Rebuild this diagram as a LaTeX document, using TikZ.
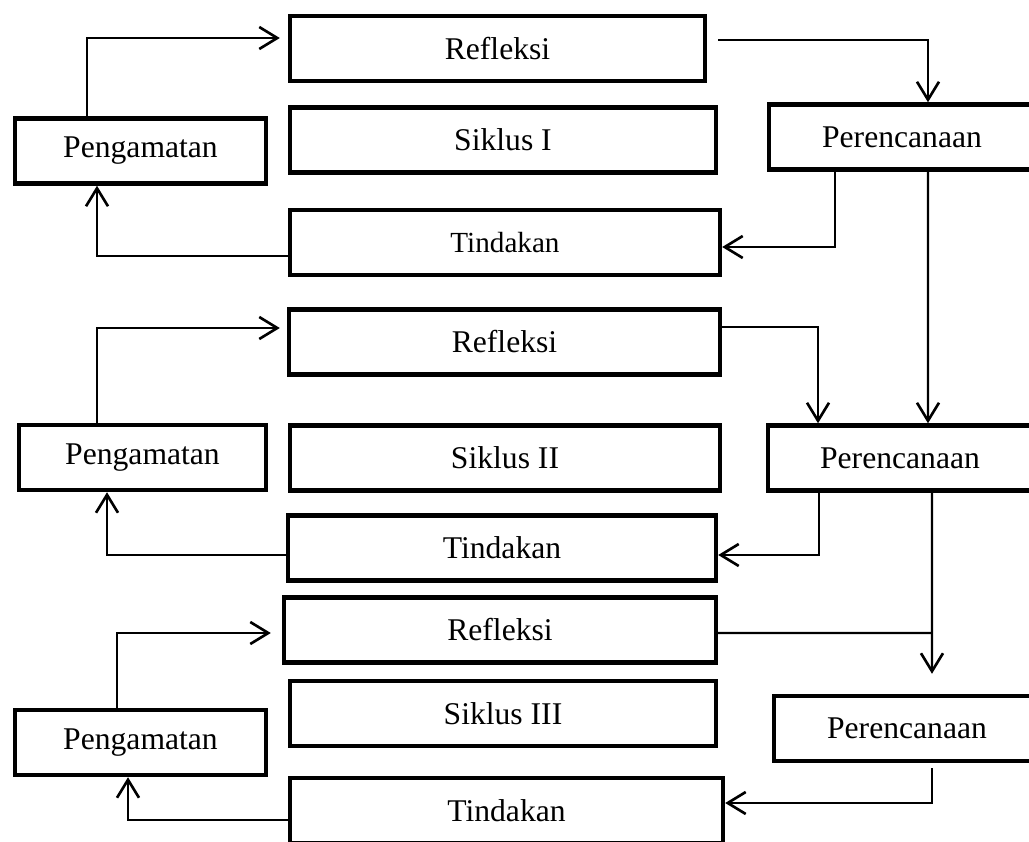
\documentclass[tikz,border=0pt]{standalone}
\usepackage{fontspec}
\setmainfont{Liberation Serif}
\usetikzlibrary{arrows.meta, positioning}

\begin{document}
\begin{tikzpicture}[
    x=0.02cm, y=-0.02cm,
    every node/.style={font=\fontsize{18}{22}\selectfont},
    kotak/.style={rectangle, draw, line width=0.09cm, minimum height=1.3cm,
                  inner sep=0pt, align=center},
    arr/.style={-{Straight Barb[length=0.36cm, width=0.44cm, line width=1.5pt]}, line width=1.2pt},
    ln/.style={line width=1.2pt}
]
    \useasboundingbox (0,0) rectangle (1029,842);
    \clip (0,0) rectangle (1029,842);

    % Siklus I
    \node[kotak, minimum width=8.3cm]  (ref1) at (497.5,48.5) {Refleksi};
    \node[kotak, minimum width=8.52cm] (sik1) at (503,140)    {Siklus I};
    \node[kotak, minimum width=8.6cm, font=\fontsize{16.6}{20}\selectfont]
                                       (tin1) at (505,242.5)  {Tindakan};
    \node[kotak, minimum width=5.02cm] (amt1) at (140.5,151)  {Pengamatan};
    \node[kotak, minimum width=5.32cm] (ren1) at (902,137)    {Perencanaan};

    % Siklus II
    \node[kotak, minimum width=8.62cm] (ref2) at (504.5,342)  {Refleksi};
    \node[kotak, minimum width=8.6cm]  (sik2) at (505,458)    {Siklus II};
    \node[kotak, minimum width=8.56cm] (tin2) at (502,548)    {Tindakan};
    \node[kotak, minimum width=4.94cm] (amt2) at (142.5,457.5) {Pengamatan};
    \node[kotak, minimum width=5.28cm] (ren2) at (900,458)    {Perencanaan};

    % Siklus III
    \node[kotak, minimum width=8.64cm] (ref3) at (500,630)    {Refleksi};
    \node[kotak, minimum width=8.52cm] (sik3) at (503,713.5)  {Siklus III};
    \node[kotak, minimum width=8.66cm] (tin3) at (506.5,810.5) {Tindakan};
    \node[kotak, minimum width=5.02cm] (amt3) at (140.5,742.5) {Pengamatan};
    \node[kotak, minimum width=5.32cm] (ren3) at (907,728.5)  {Perencanaan};

    \coordinate (join3) at (932,633);

    % siklus I
    \draw[arr] ([xshift=-1.07cm]amt1.north) |- ([shift={(-0.16cm,0.21cm)}]ref1.west);
    \draw[arr] ([yshift=-0.27cm]tin1.west) -| ([xshift=-0.87cm]amt1.south);
    \draw[arr] ([shift={(0.22cm,0.17cm)}]ref1.east) -| ([xshift=0.52cm]ren1.north);
    \draw[arr] ([xshift=-1.34cm]ren1.south) |- ([yshift=-0.09cm]tin1.east);
    \draw[arr] ([xshift=0.52cm]ren1.south) -- ([xshift=0.56cm]ren2.north);

    % siklus II
    \draw[arr] ([xshift=-0.91cm]amt2.north) |- ([shift={(-0.14cm,0.28cm)}]ref2.west);
    \draw[arr] ([yshift=-0.14cm]tin2.west) -| ([xshift=-0.71cm]amt2.south);
    \draw[arr] ([yshift=0.3cm]ref2.east) -| ([xshift=-1.64cm]ren2.north);
    \draw[arr] ([xshift=-1.62cm]ren2.south) |- ([yshift=-0.14cm]tin2.east);
    \draw[arr, shorten >=0.4cm] ([xshift=0.64cm]ren2.south) -- ([xshift=0.5cm]ren3.north);
    \draw[ln] ([yshift=-0.06cm]ref3.east) -- (join3);

    % siklus III
    \draw[arr] ([xshift=-0.47cm]amt3.north) |- ([shift={(-0.22cm,-0.06cm)}]ref3.west);
    \draw[arr] ([yshift=-0.19cm]tin3.west) -| ([xshift=-0.25cm]amt3.south);
    \draw[arr, shorten <=0.1cm] ([xshift=0.5cm]ren3.south) |- ([yshift=0.15cm]tin3.east);
\end{tikzpicture}
\end{document}
